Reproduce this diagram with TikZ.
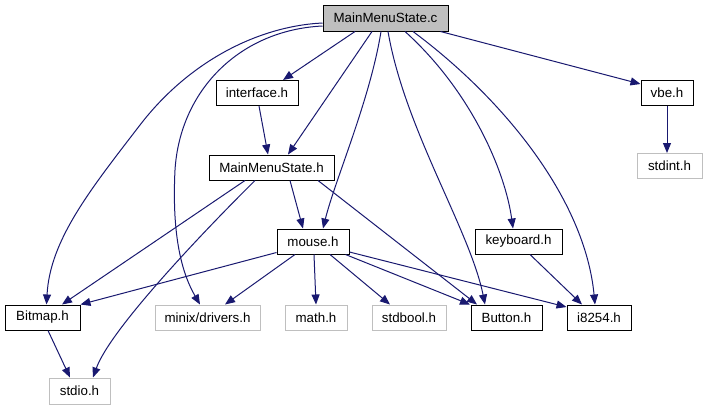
\documentclass[tikz,border=0pt]{standalone}
\usepackage{fontspec}
\setmainfont{Liberation Sans}
\usetikzlibrary{arrows.meta,calc}
\definecolor{edgecol}{HTML}{191970}
\definecolor{extcol}{HTML}{BFBFBF}
\begin{document}
\begin{tikzpicture}[x=0.75pt,y=-0.75pt,
  box/.style={draw=black,line width=0.75pt,fill=white,inner sep=0pt,minimum height=18.75pt,font=\fontsize{10}{12}\selectfont},
  extbox/.style={box,draw=extcol},
  dep/.style={draw=edgecol,line width=0.75pt,-{Triangle[length=7.5pt,width=6pt]},color=edgecol}]
\fill[white] (0,0) rectangle (709,411);
\useasboundingbox (0,0) rectangle (709,411);

\node[box,fill=extcol!100,minimum width=93.75pt,minimum height=19.5pt] (c) at (385.5,18) {MainMenuState.c};
\node[box,minimum width=61.5pt] (iface) at (257,93) {interface.h};
\node[box,minimum width=93.75pt] (mmsh) at (271.5,167.5) {MainMenuState.h};
\node[box,minimum width=39pt] (vbe) at (667,92.5) {vbe.h};
\node[extbox,minimum width=48.75pt] (stdint) at (669.5,166) {stdint.h};
\node[box,minimum width=54pt] (mouse) at (313,241.5) {mouse.h};
\node[box,minimum width=65.25pt] (kbd) at (518.5,241.5) {keyboard.h};
\node[box,minimum width=56.25pt] (bmp) at (42.5,317.5) {Bitmap.h};
\node[extbox,minimum width=78.75pt] (minix) at (207.5,317.5) {minix/drivers.h};
\node[extbox,minimum width=46.5pt] (math) at (316,317.5) {math.h};
\node[extbox,minimum width=55.5pt] (stdbool) at (409,317.5) {stdbool.h};
\node[box,minimum width=53.25pt] (button) at (506.5,317.5) {Button.h};
\node[box,minimum width=48pt] (i8254) at (599,317.5) {i8254.h};
\node[extbox,minimum width=45.75pt,minimum height=19.5pt] (stdio) at (79.5,391) {stdio.h};

% from MainMenuState.c
\draw[dep] ($(c.south)+(-30.5,0)$) -- ($(iface.north)+(26,0)$);
\draw[dep] ($(c.south)+(-13.5,0)$) -- ($(mmsh.north)+(16.5,0)$);
\draw[dep] ($(c.west)+(0,5)$) .. controls (260,26) and (190,60) .. (140,125)
  .. controls (90,190) and (50,240) .. ($(bmp.north)+(4,0)$);
\draw[dep] ($(c.west)+(0,8)$) .. controls (240,30) and (180,90) .. (175,170)
  .. controls (172,230) and (180,270) .. ($(minix.north)+(-7.5,0)$);
\draw[dep] ($(c.south)+(-4.5,0)$) .. controls (370,100) and (335,180) .. ($(mouse.north)+(10,0)$);
\draw[dep] ($(c.south)+(2.5,0)$) .. controls (405,130) and (470,230) .. ($(button.north)+(-21.5,0)$);
\draw[dep] ($(c.south)+(19.5,0)$) .. controls (470,90) and (505,170) .. ($(kbd.north)+(-5.5,0)$);
\draw[dep] ($(c.south)+(27.5,0)$) .. controls (505,100) and (585,200) .. ($(i8254.north)+(-4,0)$);
\draw[dep] ($(c.south east)+(-8,0)$) -- ($(vbe.west)+(0,-8.5)$);

% others
\draw[dep] ($(iface.south)+(2,0)$) -- ($(mmsh.north)+(-3.5,0)$);
\draw[dep] (vbe.south) -- (stdint.north -| vbe.south);
\draw[dep] ($(mmsh.south)+(18.5,0)$) -- ($(mouse.north)+(-10,0)$);
\draw[dep] ($(mmsh.south)+(-26.5,0)$) -- ($(bmp.north)+(19.5,0)$);
\draw[dep] ($(mmsh.south)+(-16.5,0)$) .. controls (200,235) and (110,330) .. ($(stdio.north)+(13.5,0)$);
\draw[dep] ($(mmsh.south)+(46.5,0)$) -- ($(button.north)+(-29.5,0)$);
\draw[dep] ($(mouse.west)+(0,11)$) -- (bmp.north east);
\draw[dep] ($(mouse.south)+(-18,0)$) -- ($(minix.north)+(17.5,0)$);
\draw[dep] ($(mouse.south)+(1,0)$) -- (math.north);
\draw[dep] ($(mouse.south)+(17,0)$) -- ($(stdbool.north)+(-19,0)$);
\draw[dep] ($(mouse.south east)+(-4,0)$) -- ($(button.north)+(-36.5,0)$);
\draw[dep] ($(mouse.east)+(0,10.5)$) -- ($(i8254.west)+(0,-10.5)$);
\draw[dep] ($(kbd.south)+(11.5,0)$) -- ($(i8254.north)+(-17,0)$);
\draw[dep] ($(bmp.south)+(5.5,0)$) -- ($(stdio.north)+(-9.5,0)$);
\end{tikzpicture}
\end{document}
